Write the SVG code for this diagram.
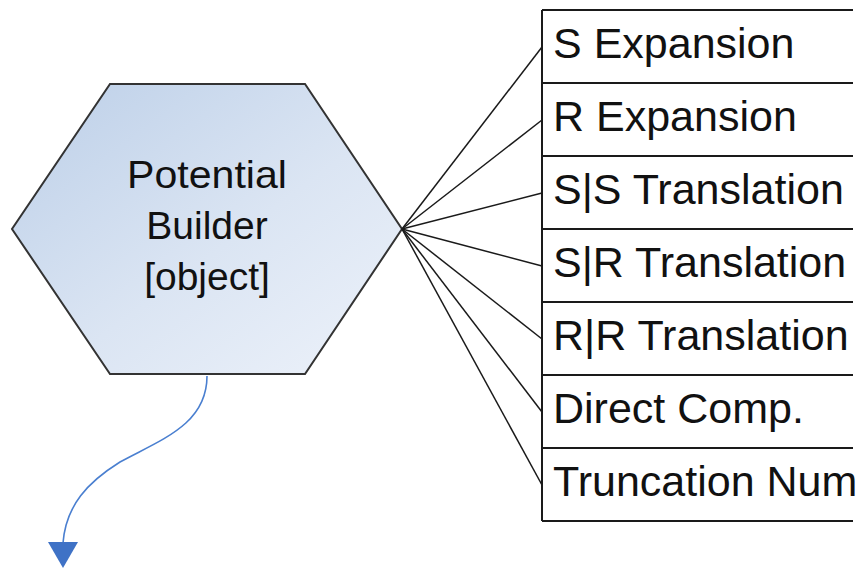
<svg xmlns="http://www.w3.org/2000/svg" width="864" height="570" viewBox="0 0 864 570">
  <defs>
    <linearGradient id="hexFill" x1="0" y1="0" x2="1" y2="1">
      <stop offset="0" stop-color="#bccfe8"/>
      <stop offset="0.55" stop-color="#dbe5f3"/>
      <stop offset="1" stop-color="#edf2fa"/>
    </linearGradient>
    <style>
      .label { font-family: "Liberation Sans", Arial, sans-serif; fill: #111111; }
      .hexText { font-size: 39px; text-anchor: middle; }
      .rowText { font-size: 43px; }
      .rule { stroke: #1a1a1a; stroke-width: 2; }
      .link { stroke: #1a1a1a; stroke-width: 1.5; fill: none; }
    </style>
  </defs>

  <rect width="864" height="570" fill="#ffffff"/>

  <!-- Potential Builder hexagon -->
  <g id="potential-builder">
    <polygon points="110,84 305,84 402,229 305,374 110,374 12,229" fill="url(#hexFill)" stroke="#333333" stroke-width="2"/>
    <text class="label hexText" x="207" y="188" textLength="160" lengthAdjust="spacingAndGlyphs">Potential</text>
    <text class="label hexText" x="207" y="239">Builder</text>
    <text class="label hexText" x="207" y="290">[object]</text>
  </g>

  <!-- Member table -->
  <g id="member-table">
    <line class="rule" x1="542" y1="10" x2="542" y2="521"/>
    <line class="rule" x1="542" y1="10" x2="853" y2="10"/>
    <line class="rule" x1="542" y1="83" x2="853" y2="83"/>
    <line class="rule" x1="542" y1="156" x2="853" y2="156"/>
    <line class="rule" x1="542" y1="229" x2="853" y2="229"/>
    <line class="rule" x1="542" y1="302" x2="853" y2="302"/>
    <line class="rule" x1="542" y1="375" x2="853" y2="375"/>
    <line class="rule" x1="542" y1="448" x2="853" y2="448"/>
    <line class="rule" x1="542" y1="521" x2="853" y2="521"/>
  </g>
  <g id="row-s-expansion"><text class="label rowText" x="553" y="58">S Expansion</text></g>
  <g id="row-r-expansion"><text class="label rowText" x="553" y="131">R Expansion</text></g>
  <g id="row-ss-translation"><text class="label rowText" x="553" y="204">S|S Translation</text></g>
  <g id="row-sr-translation"><text class="label rowText" x="553" y="277">S|R Translation</text></g>
  <g id="row-rr-translation"><text class="label rowText" x="553" y="350">R|R Translation</text></g>
  <g id="row-direct-comp"><text class="label rowText" x="553" y="423">Direct Comp.</text></g>
  <g id="row-truncation-num"><text class="label rowText" x="553" y="496">Truncation Num</text></g>

  <!-- Connectors -->
  <g id="connectors">
    <line class="link" x1="402" y1="229" x2="542" y2="47"/>
    <line class="link" x1="402" y1="229" x2="542" y2="120"/>
    <line class="link" x1="402" y1="229" x2="542" y2="193"/>
    <line class="link" x1="402" y1="229" x2="542" y2="266"/>
    <line class="link" x1="402" y1="229" x2="542" y2="339"/>
    <line class="link" x1="402" y1="229" x2="542" y2="412"/>
    <line class="link" x1="402" y1="229" x2="542" y2="485"/>
    <path d="M207,376 C207,425 160,440 120,462 C88,482 66,505 63,543" fill="none" stroke="#4a7fd0" stroke-width="1.6"/>
    <polygon points="48,542 78,542 63,568" fill="#3f72c6"/>
  </g>
</svg>
